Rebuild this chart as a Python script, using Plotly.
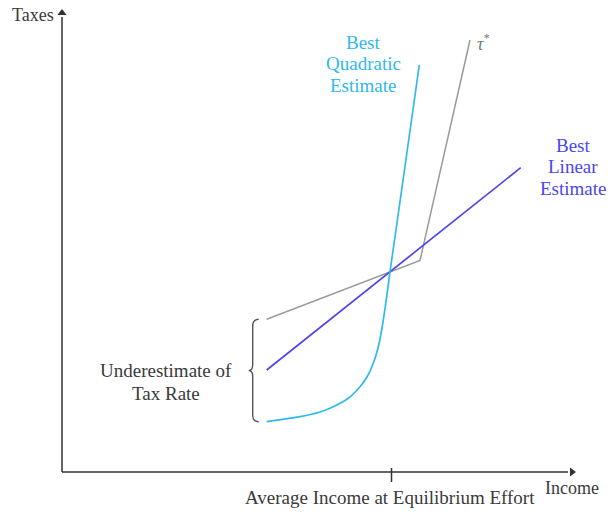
import plotly.graph_objects as go

# Data (income on x, taxes on y; arbitrary units)
tau_x = [204.7, 358.0, 408.0]
tau_y = [152.7, 211.5, 432.0]

lin_x = [204.7, 458.7]
lin_y = [102.0, 304.3]

quad_x = [204.7, 238.0, 258.0, 271.3, 286.0, 298.0, 305.0, 311.3, 316.0, 319.7,
          324.7, 328.0, 334.0, 357.3]
quad_y = [50.3, 55.3, 60.0, 65.3, 73.5, 85.3, 95.0, 108.7, 124.0, 142.0,
          175.3, 200.3, 242.0, 407.0]

x_max = 510.0
y_max = 459.0
eq_income = 329.5
tick_labels = ["Average Income at Equilibrium Effort"]

GRAY = "#9a9a9a"
BLUE = "#4a46ee"
CYAN = "#2fb9ec"
AXIS = "#333333"
TEXT = "#3a3a3a"
FONT = "Liberation Serif"
FS = 19

fig = go.Figure()
fig.add_trace(go.Scatter(x=tau_x, y=tau_y, mode="lines",
                         line=dict(color=GRAY, width=1.5), hoverinfo="skip"))
fig.add_trace(go.Scatter(x=lin_x, y=lin_y, mode="lines",
                         line=dict(color=BLUE, width=1.7), hoverinfo="skip"))
fig.add_trace(go.Scatter(x=quad_x, y=quad_y, mode="lines",
                         line=dict(color=CYAN, width=1.7, shape="spline", smoothing=0.6),
                         hoverinfo="skip"))
# axis arrow heads
fig.add_trace(go.Scatter(x=[x_max], y=[0], mode="markers", hoverinfo="skip",
                         marker=dict(symbol="triangle-right", size=8, color=AXIS)))
fig.add_trace(go.Scatter(x=[0], y=[y_max], mode="markers", hoverinfo="skip",
                         marker=dict(symbol="triangle-up", size=8, color=AXIS)))

ann = []


def label(x, y, text, color=TEXT, size=FS, xanchor="center", yanchor="middle"):
    ann.append(dict(x=x, y=y, xref="x", yref="y", text=text, showarrow=False,
                    font=dict(family=FONT, size=size, color=color),
                    xanchor=xanchor, yanchor=yanchor, align="center"))


def stacked(x, y_top, lines, color, step=21.5):
    for i, t in enumerate(lines):
        label(x, y_top - i * step, t, color=color)


label(-6, y_max - 2, "Taxes", xanchor="right", size=18)
label(510, -16, "Income", size=18)
label(eq_income - 2, -25, tick_labels[0])
label(tau_x[2] + 5, tau_y[2] - 2, "<i>τ</i><sup>*</sup>", color="#777777",
      xanchor="left", size=18)
stacked(301, 430, ["Best", "Quadratic", "Estimate"], CYAN)
stacked(511, 327, ["Best", "Linear", "Estimate"], BLUE)
stacked(104, 102, ["Underestimate of", "Tax Rate"], TEXT, step=23.5)
fig.update_layout(annotations=ann)

# axes lines and tick at equilibrium income
shapes = [
    dict(type="line", xref="x", yref="y", x0=0, x1=x_max - 4, y0=0, y1=0,
         line=dict(color=AXIS, width=1.5)),
    dict(type="line", xref="x", yref="y", x0=0, x1=0, y0=0, y1=y_max - 4,
         line=dict(color=AXIS, width=1.5)),
    dict(type="line", xref="x", yref="y", x0=eq_income, x1=eq_income,
         y0=4, y1=-10, line=dict(color=AXIS, width=1.5)),
]

# brace spanning the gap between tau* and the quadratic estimate at the left end
top = tau_y[0]
bot = quad_y[0]
mid = (top + bot) / 2
xe = tau_x[0] - 8
xb = xe - 6
xt = xb - 4
path = (f"M {xe},{top} Q {xb},{top} {xb},{top-7} L {xb},{mid+6} "
        f"Q {xb},{mid} {xt},{mid} Q {xb},{mid} {xb},{mid-6} "
        f"L {xb},{bot+7} Q {xb},{bot} {xe},{bot}")
shapes.append(dict(type="path", xref="x", yref="y", path=path,
                   line=dict(color="#555555", width=1.4)))
fig.update_layout(shapes=shapes)

fig.update_layout(
    width=608, height=514,
    margin=dict(l=0, r=0, t=0, b=0),
    paper_bgcolor="white", plot_bgcolor="white",
    showlegend=False,
    xaxis=dict(range=[-62, 546], visible=False, fixedrange=True),
    yaxis=dict(range=[-42, 472], visible=False, fixedrange=True),
)

fig.write_html("out.html", config={"displayModeBar": False},
               post_script="document.body.style.margin='0';document.body.style.overflow='hidden';")
